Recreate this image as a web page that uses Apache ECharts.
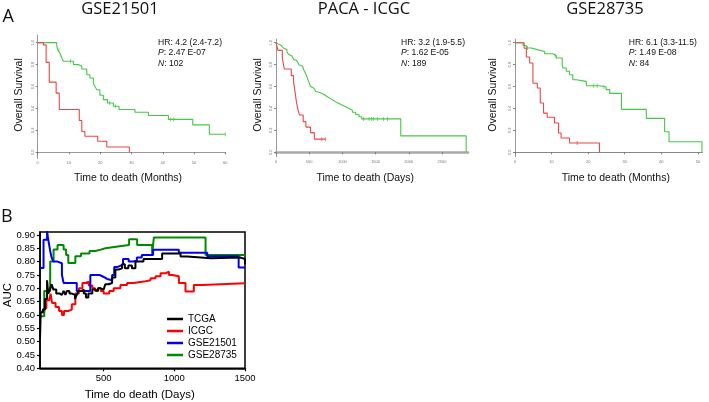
<!DOCTYPE html>
<html><head><meta charset="utf-8">
<script src="https://cdn.jsdelivr.net/npm/echarts@6/dist/echarts.min.js"></script>
<style>html,body{margin:0;padding:0;background:#fff}#c{width:709px;height:402px}</style>
</head><body><div id="c"></div>
<script>
// ---------- Panel A: Kaplan-Meier curves ----------
const kmTitles = ['GSE21501', 'PACA - ICGC', 'GSE28735'];
const kmXNames = ['Time to death (Months)', 'Time to death (Days)', 'Time to death (Months)'];
const kmStats = [
  ['4.2 (2.4-7.2)', '2.47 E-07', '102'],
  ['3.2 (1.9-5.5)', '1.62 E-05', '189'],
  ['6.1 (3.3-11.5)', '1.49 E-08', '84']
];
const kmYTicks = [0, 0.2, 0.4, 0.6, 0.8, 1.0];
const kmXTicks21501 = [0, 10, 20, 30, 40, 50, 60];
const kmXTicksICGC = [0, 500, 1000, 1500, 2000, 2500];
const kmXTicks28735 = [0, 10, 20, 30, 40, 50];

// [time, survival]
const gse21501Low = [[0,1],[6.1,0.967],[6.5,0.93],[7.1,0.906],[7.7,0.86],[8.2,0.83],[11.4,0.80],[13.0,0.785],[14.1,0.76],[15.7,0.708],[16.7,0.678],[17.8,0.632],[18.3,0.60],[18.9,0.57],[19.9,0.52],[21.0,0.48],[22.3,0.45],[24.2,0.42],[26.0,0.39],[31.1,0.365],[35.4,0.335],[41.8,0.30],[49.6,0.25],[54.9,0.165],[60,0.165]];
const gse21501High = [[0,1],[1.8,0.98],[2.7,0.82],[3.7,0.64],[5.9,0.54],[6.9,0.39],[13.3,0.29],[14.1,0.19],[15.1,0.146],[19.2,0.10],[22.1,0.048],[29.3,0.0]];
const icgcLow = [[0,1],[20,0.985],[45,0.975],[80,0.962],[110,0.952],[140,0.935],[165,0.915],[190,0.895],[215,0.878],[240,0.865],[265,0.85],[290,0.835],[315,0.82],[345,0.80],[370,0.785],[400,0.77],[420,0.75],[440,0.725],[460,0.70],[475,0.675],[490,0.65],[505,0.625],[520,0.60],[545,0.585],[570,0.57],[600,0.555],[630,0.545],[660,0.535],[700,0.52],[740,0.505],[780,0.49],[820,0.475],[860,0.46],[900,0.445],[950,0.43],[1000,0.415],[1050,0.40],[1100,0.385],[1150,0.365],[1200,0.345],[1250,0.325],[1290,0.305],[1879,0.15],[2864,0.0]];
const icgcHigh = [[0,1],[30,0.93],[95,0.86],[125,0.76],[230,0.70],[265,0.64],[285,0.56],[305,0.47],[330,0.39],[355,0.34],[410,0.28],[450,0.23],[520,0.18],[577,0.12],[743,0.12]];
const gse28735Low = [[0,1],[2.2,0.975],[3.1,0.952],[4.5,0.935],[6.3,0.92],[8.1,0.90],[10.4,0.882],[11.3,0.86],[12.9,0.80],[13.1,0.77],[14.0,0.74],[14.9,0.708],[15.8,0.662],[16.7,0.647],[19.5,0.608],[23.1,0.596],[24.9,0.572],[25.9,0.538],[29.1,0.392],[35.9,0.31],[40.9,0.188],[42.1,0.097],[51.1,0.0]];
const gse28735High = [[0,1],[2.5,0.95],[3.1,0.87],[4.0,0.815],[4.9,0.63],[6.1,0.587],[6.9,0.45],[7.8,0.358],[8.8,0.32],[10.8,0.267],[11.9,0.176],[12.6,0.13],[14.9,0.085],[23.1,0.0]];
// censoring marks [time, survival]
const censor21501Low = [[6.8,0.93],[10.5,0.83],[23.0,0.45],[24.8,0.42],[42.5,0.30],[43.5,0.30],[60,0.165]];
const censorICGCLow = [[1320,0.305],[1400,0.305],[1440,0.305],[1470,0.305],[1530,0.305],[1620,0.305],[1680,0.305]];
const censorICGCHigh = [[690,0.12],[743,0.12]];
const censor28735Low = [[3.4,0.952],[11.0,0.882],[21.5,0.608],[22.5,0.608],[24.3,0.596]];
const censor28735High = [[17.0,0.085]];

// ---------- Panel B: time-dependent AUC ----------
const bYTicks = [0.40,0.45,0.50,0.55,0.60,0.65,0.70,0.75,0.80,0.85,0.90];
const bXTicks = [500, 1000, 1500];
const aucNames = ['TCGA', 'ICGC', 'GSE21501', 'GSE28735'];
const aucTCGA = [[50,0.51],[55,0.61],[70,0.62],[85,0.66],[100,0.73],[108,0.68],[120,0.695],[132,0.715],[145,0.695],[165,0.68],[190,0.675],[205,0.68],[217,0.69],[230,0.675],[240,0.69],[258,0.68],[276,0.675],[298,0.66],[310,0.675],[323,0.69],[345,0.695],[360,0.68],[375,0.665],[392,0.68],[420,0.695],[440,0.69],[460,0.70],[480,0.695],[500,0.70],[512,0.715],[535,0.72],[560,0.74],[583,0.77],[606,0.775],[630,0.79],[650,0.775],[675,0.785],[700,0.775],[725,0.80],[782,0.81],[914,0.83],[1044,0.819],[1091,0.8125],[1260,0.815],[1470,0.81],[1500,0.79]];
const aucICGC = [[50,0.61],[80,0.625],[95,0.655],[115,0.66],[125,0.68],[135,0.645],[160,0.63],[185,0.615],[205,0.60],[220,0.615],[250,0.62],[275,0.64],[300,0.68],[325,0.70],[350,0.72],[370,0.725],[395,0.71],[420,0.70],[440,0.69],[460,0.70],[480,0.69],[500,0.68],[540,0.69],[571,0.70],[619,0.7125],[666,0.72],[713,0.725],[784,0.73],[832,0.7375],[867,0.745],[903,0.756],[938,0.7625],[962,0.75],[985,0.745],[1032,0.72],[1079,0.6875],[1138,0.7125],[1198,0.719],[1500,0.719]];
const aucGSE21501 = [[50,0.776],[75,0.882],[100,0.914],[106,0.89],[114,0.865],[122,0.84],[132,0.815],[145,0.80],[174,0.794],[205,0.75],[217,0.72],[310,0.69],[406,0.75],[470,0.745],[490,0.74],[510,0.735],[525,0.73],[560,0.75],[575,0.78],[600,0.785],[620,0.79],[637,0.81],[677,0.80],[710,0.805],[735,0.815],[770,0.825],[850,0.844],[1032,0.833],[1233,0.82],[1455,0.778],[1500,0.778]];
const aucGSE28735 = [[50,0.595],[80,0.69],[122,0.80],[146,0.845],[174,0.862],[217,0.845],[235,0.825],[250,0.795],[300,0.82],[340,0.83],[400,0.84],[441,0.845],[480,0.85],[512,0.857],[600,0.862],[680,0.884],[737,0.862],[843,0.825],[855,0.89],[1221,0.825],[1500,0.825]];

const ARIAL = 'Liberation Sans, Arial, sans-serif';
const TITLEF = 'Open Sans, Noto Sans, sans-serif';
const KM_GREEN = '#45c845', KM_RED = '#ee4646';

const kmGrids = [
  {left: 37.7, top: 35, width: 187.6, height: 123.3},
  {left: 276, top: 39, width: 192, height: 117.7},
  {left: 515, top: 39, width: 187.3, height: 117.7}
];
const kmXRanges = [[0, 60], [0, 2892], [0, 51.2]];
const kmYRanges = [[-0.055, 1.07], [-0.04, 1.034], [-0.04, 1.034]];
const kmXTickSets = [kmXTicks21501, kmXTicksICGC, kmXTicks28735];
const kmXAxisWidth = [1, 2.6, 1];
const kmXAxisColor = ['#999', '#aaa', '#888'];
const plain = v => String(v);

const grids = kmGrids.concat([{left: 40, top: 232, width: 205, height: 136.3, show: true, borderColor: '#000', borderWidth: 1.5}]);
const xAxes = [], yAxes = [];
for (let i = 0; i < 3; i++) {
  xAxes.push({
    type: 'value', gridIndex: i, min: kmXRanges[i][0], max: kmXRanges[i][1],
    splitLine: {show: false},
    axisLine: {show: true, lineStyle: {color: kmXAxisColor[i], width: kmXAxisWidth[i]}},
    axisTick: {show: true, length: 2, customValues: kmXTickSets[i], lineStyle: {color: '#666', width: 0.8}},
    axisLabel: {customValues: kmXTickSets[i], fontSize: 4, color: '#777', margin: 3, fontFamily: ARIAL, formatter: plain}
  });
  yAxes.push({
    type: 'value', gridIndex: i, min: kmYRanges[i][0], max: kmYRanges[i][1],
    splitLine: {show: false},
    axisLine: {show: true, lineStyle: {color: '#999', width: 1}},
    axisTick: {show: true, length: 2, customValues: kmYTicks, lineStyle: {color: '#666', width: 0.8}},
    axisLabel: {customValues: kmYTicks, fontSize: 4, color: '#777', margin: 3, rotate: 90, fontFamily: ARIAL,
      formatter: v => v.toFixed(1)}
  });
}
xAxes.push({
  type: 'value', gridIndex: 3, min: 50, max: 1500, splitLine: {show: false},
  axisLine: {show: true, lineStyle: {color: '#000', width: 1.5}},
  axisTick: {show: true, length: 3, customValues: bXTicks, lineStyle: {color: '#000', width: 1.2}},
  axisLabel: {customValues: bXTicks, fontSize: 9.5, color: '#000', margin: 5, fontFamily: ARIAL, formatter: plain}
});
yAxes.push({
  type: 'value', gridIndex: 3, min: 0.40, max: 0.911, splitLine: {show: false},
  axisLine: {show: true, lineStyle: {color: '#000', width: 1.5}},
  axisTick: {show: true, length: 3, customValues: bYTicks, lineStyle: {color: '#000', width: 1.2}},
  axisLabel: {customValues: bYTicks, fontSize: 9.5, color: '#000', margin: 5, fontFamily: ARIAL,
    formatter: v => v.toFixed(2)}
});

const kmSets = [[gse21501Low, gse21501High], [icgcLow, icgcHigh], [gse28735Low, gse28735High]];
const censorSets = [[censor21501Low, KM_GREEN, 0], [censorICGCLow, KM_GREEN, 1], [censorICGCHigh, KM_RED, 1], [censor28735Low, KM_GREEN, 2], [censor28735High, KM_RED, 2]];
const series = [];
kmSets.forEach((pair, i) => {
  series.push({name: kmTitles[i] + ' low', type: 'line', step: 'end', xAxisIndex: i, yAxisIndex: i, data: pair[0],
    symbol: 'none', lineStyle: {color: KM_GREEN, width: 1.1}, silent: true, z: 3});
  series.push({name: kmTitles[i] + ' high', type: 'line', step: 'end', xAxisIndex: i, yAxisIndex: i, data: pair[1],
    symbol: 'none', lineStyle: {color: KM_RED, width: 1.1}, silent: true, z: 4});
});
censorSets.forEach((c, k) => {
  series.push({name: 'censor' + k, type: 'scatter', xAxisIndex: c[2], yAxisIndex: c[2], data: c[0],
    symbol: 'rect', symbolSize: [0.9, 4], itemStyle: {color: c[1]}, silent: true, z: 5});
});
const aucData = [aucTCGA, aucICGC, aucGSE21501, aucGSE28735];
const aucColors = ['#000000', '#ff0000', '#0000ee', '#008a00'];
const aucZ = [6, 3, 5, 4];
aucData.forEach((d, i) => {
  series.push({name: aucNames[i], type: 'line', step: 'end', xAxisIndex: 3, yAxisIndex: 3, data: d,
    symbol: 'none', color: aucColors[i], lineStyle: {color: aucColors[i], width: 2}, z: aucZ[i], clip: true});
});

const graphics = [];
function txt(x, y, text, size, font, opts) {
  graphics.push(Object.assign({type: 'text', x: x, y: y, silent: true,
    style: {text: text, fontSize: size, fontFamily: font, fill: '#111', align: 'center', verticalAlign: 'middle'}}, opts || {}));
}
txt(8.3, 16.5, 'A', 18, TITLEF);
txt(6.7, 216.5, 'B', 18, TITLEF);
const titleX = [120, 364, 605];
const yNameX = [19, 257.7, 492.7];
const xNameX = [128, 365.3, 615.8];
const statX = [158, 401, 628.7];
for (let i = 0; i < 3; i++) {
  txt(titleX[i], 9.5, kmTitles[i], 16.5, TITLEF);
  txt(yNameX[i], 95, 'Overall Survival', 10.5, ARIAL, {rotation: Math.PI / 2});
  txt(xNameX[i], 178, kmXNames[i], 10.5, ARIAL);
  graphics.push({type: 'text', x: statX[i], y: 37.5, silent: true, style: {
    text: 'HR: ' + kmStats[i][0] + '\n{i|P}: ' + kmStats[i][1] + '\n{i|N}: ' + kmStats[i][2],
    fontSize: 8.6, fontFamily: ARIAL, fill: '#111', lineHeight: 10.3, align: 'left', verticalAlign: 'top',
    rich: {i: {fontStyle: 'italic', fontSize: 8.6, fontFamily: ARIAL, fill: '#111', lineHeight: 10.3}}
  }});
}
txt(8.3, 295, 'AUC', 11.5, ARIAL, {rotation: Math.PI / 2, style: {text: 'AUC', fontSize: 11.5, fontFamily: ARIAL, fill: '#000', align: 'center', verticalAlign: 'middle'}});
txt(139.7, 395, 'Time do death (Days)', 11.5, ARIAL, {style: {text: 'Time do death (Days)', fontSize: 11.5, fontFamily: ARIAL, fill: '#000', align: 'center', verticalAlign: 'middle'}});

const chart = echarts.init(document.getElementById('c'), null, {renderer: 'canvas'});
chart.setOption({
  animation: false,
  backgroundColor: '#fff',
  grid: grids,
  xAxis: xAxes,
  yAxis: yAxes,
  legend: {
    data: aucNames, orient: 'vertical', left: 167, top: 314, padding: 0,
    itemWidth: 16, itemHeight: 2.5, itemGap: 2, icon: 'rect',
    textStyle: {fontSize: 10, fontFamily: ARIAL, color: '#000', lineHeight: 10}
  },
  series: series,
  graphic: graphics
});
</script>
</body></html>
